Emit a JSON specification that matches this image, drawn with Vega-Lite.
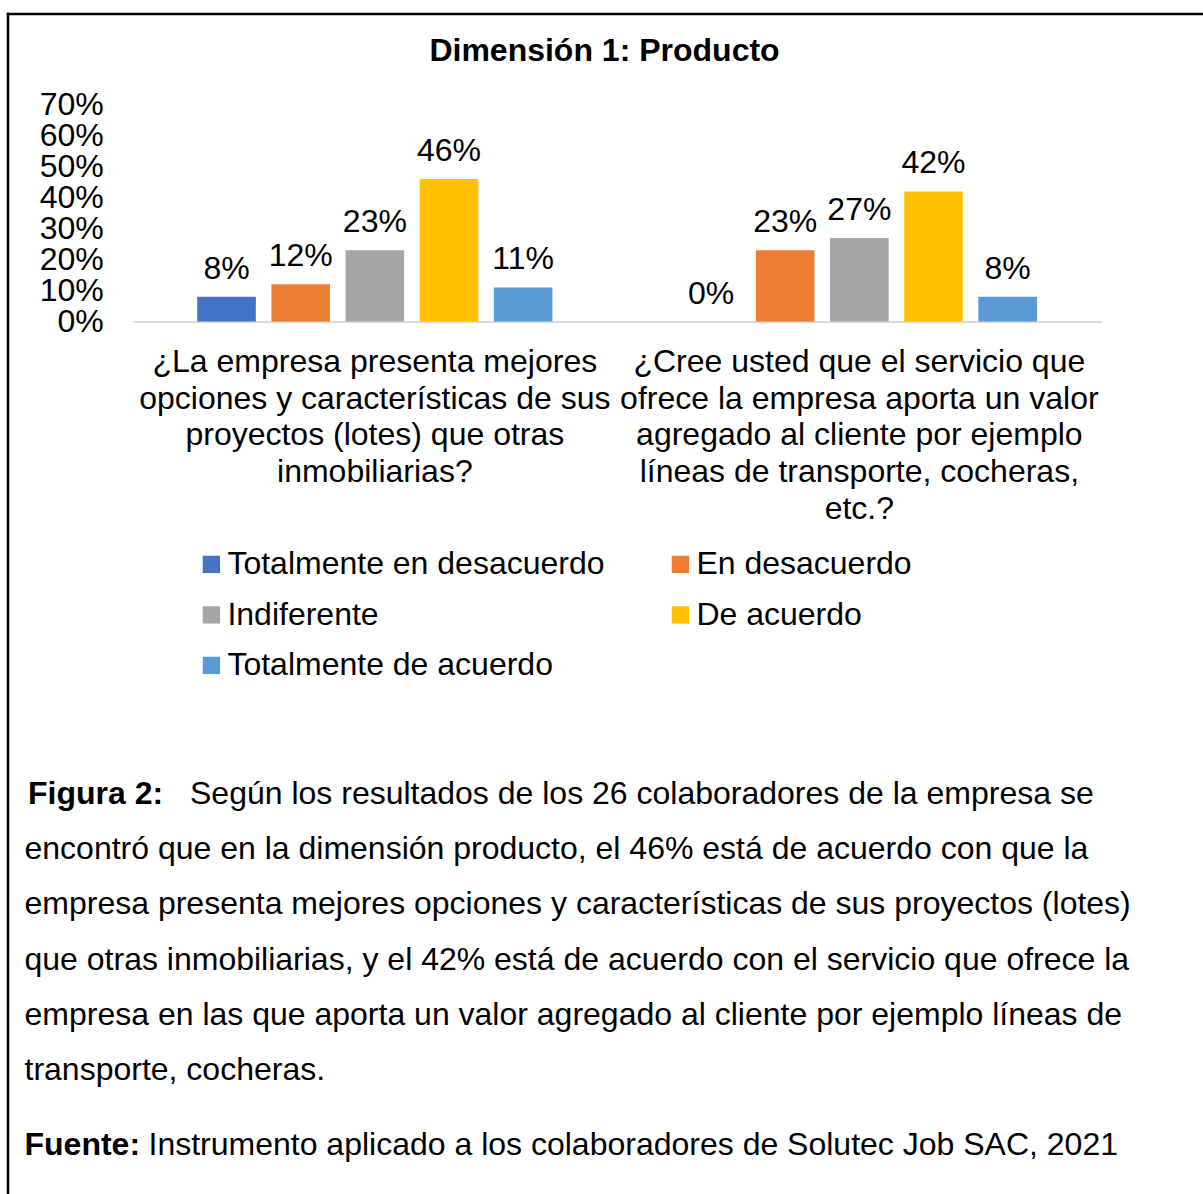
{
  "$schema": "https://vega.github.io/schema/vega-lite/v6.json",
  "autosize": {"type": "none"},
  "padding": {"left": 7.5, "top": 13.5, "right": 0, "bottom": 0},
  "width": 1195,
  "height": 1180,
  "background": "white",
  "title": {
    "text": "Dimensión 1: Producto",
    "font": "Liberation Sans",
    "fontSize": 32,
    "fontWeight": "bold",
    "color": "#000000",
    "anchor": "middle",
    "frame": "group",
    "baseline": "alphabetic",
    "offset": -79,
    "dx": -0.5
  },
  "config": {
    "view": {"stroke": null},
    "font": "Liberation Sans",
    "text": {"font": "Liberation Sans", "fontSize": 32, "color": "#000000"}
  },
  "datasets": {
    "respuestas": [
      {"pregunta": "¿La empresa presenta mejores opciones y características de sus proyectos (lotes) que otras inmobiliarias?", "respuesta": "Totalmente en desacuerdo", "valor": 0.08},
      {"pregunta": "¿La empresa presenta mejores opciones y características de sus proyectos (lotes) que otras inmobiliarias?", "respuesta": "En desacuerdo", "valor": 0.12},
      {"pregunta": "¿La empresa presenta mejores opciones y características de sus proyectos (lotes) que otras inmobiliarias?", "respuesta": "Indiferente", "valor": 0.23},
      {"pregunta": "¿La empresa presenta mejores opciones y características de sus proyectos (lotes) que otras inmobiliarias?", "respuesta": "De acuerdo", "valor": 0.46},
      {"pregunta": "¿La empresa presenta mejores opciones y características de sus proyectos (lotes) que otras inmobiliarias?", "respuesta": "Totalmente de acuerdo", "valor": 0.11},
      {"pregunta": "¿Cree usted que el servicio que ofrece la empresa aporta un valor agregado al cliente por ejemplo líneas de transporte, cocheras, etc.?", "respuesta": "Totalmente en desacuerdo", "valor": 0.0},
      {"pregunta": "¿Cree usted que el servicio que ofrece la empresa aporta un valor agregado al cliente por ejemplo líneas de transporte, cocheras, etc.?", "respuesta": "En desacuerdo", "valor": 0.23},
      {"pregunta": "¿Cree usted que el servicio que ofrece la empresa aporta un valor agregado al cliente por ejemplo líneas de transporte, cocheras, etc.?", "respuesta": "Indiferente", "valor": 0.27},
      {"pregunta": "¿Cree usted que el servicio que ofrece la empresa aporta un valor agregado al cliente por ejemplo líneas de transporte, cocheras, etc.?", "respuesta": "De acuerdo", "valor": 0.42},
      {"pregunta": "¿Cree usted que el servicio que ofrece la empresa aporta un valor agregado al cliente por ejemplo líneas de transporte, cocheras, etc.?", "respuesta": "Totalmente de acuerdo", "valor": 0.08}
    ],
    "nota": [
      {"renglon": 1, "negrita": "Figura 2:", "texto": "Según los resultados de los 26 colaboradores de la empresa se"},
      {"renglon": 2, "negrita": "", "texto": "encontró que en la dimensión producto, el 46% está de acuerdo con que la"},
      {"renglon": 3, "negrita": "", "texto": "empresa presenta mejores opciones y características de sus proyectos (lotes)"},
      {"renglon": 4, "negrita": "", "texto": "que otras inmobiliarias, y el 42% está de acuerdo con el servicio que ofrece la"},
      {"renglon": 5, "negrita": "", "texto": "empresa en las que aporta un valor agregado al cliente por ejemplo líneas de"},
      {"renglon": 6, "negrita": "", "texto": "transporte, cocheras."},
      {"renglon": 7, "negrita": "Fuente:", "texto": "Instrumento aplicado a los colaboradores de Solutec Job SAC, 2021"}
    ]
  },
  "layer": [
    {
      "data": {"name": "respuestas"},
      "encoding": {
        "x": {
          "field": "pregunta",
          "type": "nominal",
          "sort": null,
          "scale": {"range": [125.1, 1094.1], "paddingInner": 0, "paddingOuter": 0},
          "axis": {
            "orient": "bottom",
            "offset": -872,
            "title": null,
            "domain": true,
            "domainColor": "#D9D9D9",
            "domainWidth": 2,
            "ticks": false,
            "tickSize": 0,
            "grid": false,
            "labelPadding": 25,
            "labelAngle": 0,
            "labelAlign": "center",
            "labelBaseline": "top",
            "labelFont": "Liberation Sans",
            "labelFontSize": 32,
            "labelColor": "#000000",
            "labelLineHeight": 36.7,
            "labelLimit": 2000,
            "labelOverlap": false,
            "labelExpr": "indexof(datum.value, '¿La empresa') == 0 ? ['¿La empresa presenta mejores', 'opciones y características de sus', 'proyectos (lotes) que otras', 'inmobiliarias?'] : ['¿Cree usted que el servicio que', 'ofrece la empresa aporta un valor', 'agregado al cliente por ejemplo', 'líneas de transporte, cocheras,', 'etc.?']"
          }
        },
        "xOffset": {
          "field": "respuesta",
          "type": "nominal",
          "sort": ["Totalmente en desacuerdo", "En desacuerdo", "Indiferente", "De acuerdo", "Totalmente de acuerdo"],
          "scale": {"paddingInner": 0.21, "paddingOuter": 0.872}
        },
        "y": {
          "field": "valor",
          "type": "quantitative",
          "scale": {"domain": [0, 0.7], "range": [308, 91.2], "nice": false},
          "axis": {
            "orient": "left",
            "offset": -95.8,
            "title": null,
            "domain": false,
            "ticks": false,
            "tickSize": 0,
            "grid": false,
            "values": [0, 0.1, 0.2, 0.3, 0.4, 0.5, 0.6, 0.7],
            "format": ".0%",
            "labelPadding": 0,
            "labelFont": "Liberation Sans",
            "labelFontSize": 32,
            "labelColor": "#000000",
            "labelAlign": "right",
            "labelBaseline": "middle",
            "labelFlush": false,
            "labelOverlap": false
          }
        }
      },
      "layer": [
        {
          "mark": {"type": "bar"},
          "encoding": {
            "color": {
              "field": "respuesta",
              "type": "nominal",
              "scale": {
                "domain": ["Totalmente en desacuerdo", "En desacuerdo", "Indiferente", "De acuerdo", "Totalmente de acuerdo"],
                "range": ["#4472C4", "#ED7D31", "#A5A5A5", "#FFC000", "#5B9BD5"]
              },
              "legend": {
                "orient": "none",
                "legendX": 187.9,
                "legendY": 534.9,
                "title": null,
                "direction": "horizontal",
                "columns": 2,
                "padding": 0,
                "symbolType": "square",
                "symbolSize": 300,
                "symbolStrokeWidth": 0,
                "labelFont": "Liberation Sans",
                "labelFontSize": 32,
                "labelColor": "#000000",
                "labelLimit": 1000,
                "labelOffset": 0,
                "columnPadding": 59,
                "rowPadding": 18.5
              }
            }
          }
        },
        {
          "mark": {"type": "text", "baseline": "alphabetic", "align": "center", "dy": -18, "fontSize": 32, "color": "#000000"},
          "encoding": {
            "text": {"field": "valor", "type": "quantitative", "format": ".0%"}
          }
        }
      ]
    },
    {
      "data": {"name": "nota"},
      "encoding": {
        "x": {
          "datum": 0,
          "type": "quantitative",
          "scale": {"domain": [0, 1], "nice": false, "zero": false},
          "axis": {"orient": "top", "offset": 0, "title": null, "domain": true, "domainColor": "#000000", "domainWidth": 2.5, "domainCap": "square", "labels": false, "ticks": false, "grid": false}
        },
        "y": {
          "field": "renglon",
          "type": "quantitative",
          "scale": {"domain": [-13.3207, 8.0561], "reverse": true, "nice": false, "zero": false},
          "axis": {"orient": "left", "offset": 0, "title": null, "domain": true, "domainColor": "#000000", "domainWidth": 2.5, "domainCap": "square", "labels": false, "ticks": false, "grid": false}
        }
      },
      "layer": [
        {
          "transform": [{"filter": "datum.renglon >= 2 && datum.renglon <= 6"}],
          "mark": {"type": "text", "align": "left", "baseline": "alphabetic", "fontSize": 32, "color": "#000000", "dx": 17},
          "encoding": {"text": {"field": "texto"}}
        },
        {
          "transform": [{"filter": "datum.renglon == 1"}],
          "mark": {"type": "text", "align": "left", "baseline": "alphabetic", "fontSize": 32, "fontWeight": "bold", "color": "#000000", "dx": 20.5},
          "encoding": {"text": {"field": "negrita"}}
        },
        {
          "transform": [{"filter": "datum.renglon == 1"}],
          "mark": {"type": "text", "align": "left", "baseline": "alphabetic", "fontSize": 32, "color": "#000000", "dx": 182.5},
          "encoding": {"text": {"field": "texto"}}
        },
        {
          "transform": [{"filter": "datum.renglon == 7"}],
          "mark": {"type": "text", "align": "left", "baseline": "alphabetic", "fontSize": 32, "fontWeight": "bold", "color": "#000000", "dx": 17, "dy": 20},
          "encoding": {"text": {"field": "negrita"}}
        },
        {
          "transform": [{"filter": "datum.renglon == 7"}],
          "mark": {"type": "text", "align": "left", "baseline": "alphabetic", "fontSize": 32, "color": "#000000", "dx": 141, "dy": 20},
          "encoding": {"text": {"field": "texto"}}
        }
      ]
    }
  ],
  "resolve": {"scale": {"x": "independent", "y": "independent"}}
}
